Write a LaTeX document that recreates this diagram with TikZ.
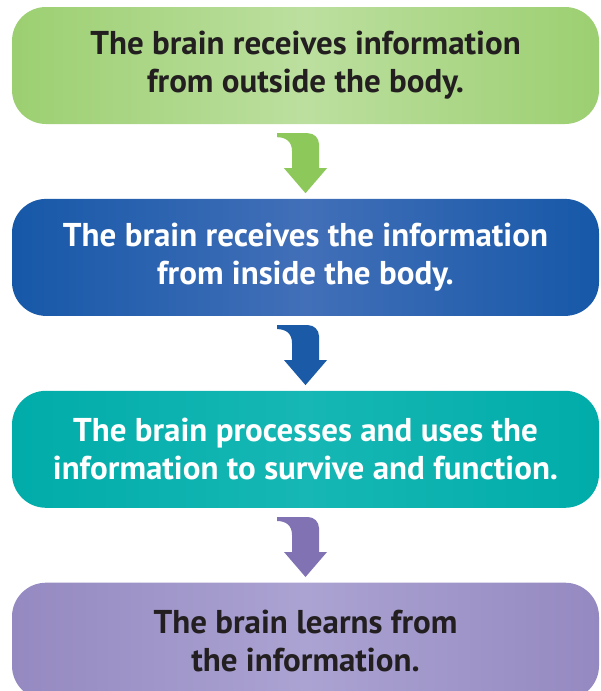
\documentclass[tikz,border=0pt]{standalone}
\usepackage{fontspec}
\setmainfont{PT Sans}
\usetikzlibrary{positioning, calc}

\definecolor{greenedge}{HTML}{9CCF71}
\definecolor{greenmid}{HTML}{BCDF9F}
\definecolor{greenarrow}{HTML}{8DC85A}
\definecolor{blueedge}{HTML}{1658A8}
\definecolor{bluemid}{HTML}{426FB8}
\definecolor{bluearrow}{HTML}{1A5AA6}
\definecolor{tealedge}{HTML}{00ACA9}
\definecolor{tealmid}{HTML}{16B7B4}
\definecolor{purpleedge}{HTML}{9589C1}
\definecolor{purplemid}{HTML}{ABA3D2}
\definecolor{purplearrow}{HTML}{8072B3}
\definecolor{textdark}{HTML}{231F20}

\begin{document}
\begin{tikzpicture}[
    x=1pt, y=1pt,
    node distance=74.5pt,
    stage/.style={
      rectangle,
      rounded corners=34pt,
      minimum width=587pt,
      minimum height=117pt,
      align=center,
      font=\fontsize{33}{38}\selectfont\bfseries
    },
    bendarrow/.pic={
      \fill[#1] (-28.5,0) -- (2.5,0) arc[start angle=90, end angle=0, radius=11]
        -- (13.5,-35) -- (21.5,-35) -- (0,-60) -- (-21.5,-35) -- (-13.5,-35)
        -- (-13.5,-18) .. controls (-13.5,-8) and (-20,-4) .. (-28.5,-4) -- cycle;
    }
]

% page size
\clip (0,0) rectangle (600,-691);

% four stages
\node[stage, left color=greenedge, right color=greenedge, middle color=greenmid, text=textdark]
  (outside) at (305.5,-65.5) {The brain receives information\\from outside the body.};
\node[stage, below=of outside, left color=blueedge, right color=blueedge, middle color=bluemid, text=white]
  (inside) {The brain receives the information\\from inside the body.};
\node[stage, below=of inside, left color=tealedge, right color=tealedge, middle color=tealmid, text=white]
  (process) {The brain processes and uses the\\information to survive and function.};
\node[stage, below=of process, left color=purpleedge, right color=purpleedge, middle color=purplemid, text=textdark]
  (learn) {The brain learns from\\the information.};

% arrows between stages
\pic at ($(outside.south)+(0,-9)$) {bendarrow=greenarrow};
\pic at ($(inside.south)+(0,-9)$) {bendarrow=bluearrow};
\pic at ($(process.south)+(0,-9)$) {bendarrow=purplearrow};

\end{tikzpicture}
\end{document}
